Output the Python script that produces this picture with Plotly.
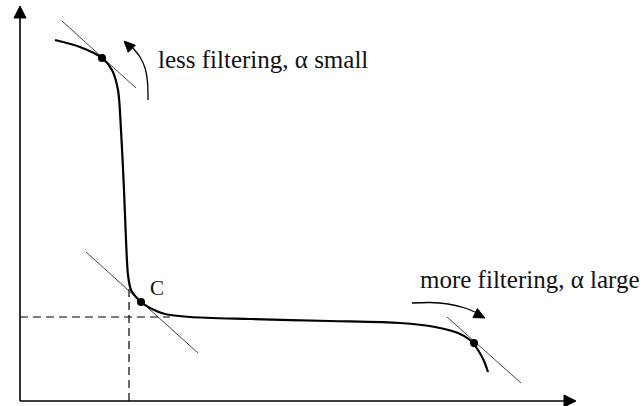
import numpy as np
import plotly.graph_objects as go

W, H = 643, 406

# L-curve control points (drawing units, y grows downward)
curve_x = [55, 80, 102, 112, 118, 121, 124, 126, 128, 131, 136, 141, 150, 165, 190, 250, 330, 400, 435, 458, 470, 478, 484, 488]
curve_y = [40, 47, 58, 70, 90, 130, 190, 240, 275, 290, 297, 302, 308, 314, 317, 319, 321, 323, 327, 333, 340, 350, 361, 372]

# marked points on the curve
pts_x = [102, 141, 474]
pts_y = [58, 302, 343]

# tangent segments
tan_x = [(62, 136), (86, 198), (447, 521)]
tan_y = [(21, 88), (252, 353), (317, 383)]

# corner guide lines
corner_x, corner_y = 129, 317

# axes
origin = (20, 401)
x_end, y_end = 576, 6

# curved direction arrows
arrow1_x = [148, 147.5, 145, 140, 132, 124]
arrow1_y = [100, 82, 68, 57, 47, 41]
arrow2_x = [412, 430, 448, 465, 477, 485]
arrow2_y = [303, 302.5, 304, 308, 313, 318]

labels = ["less filtering, \u03b1 small", "more filtering, \u03b1 large", "C"]

fig = go.Figure()

def line(xs, ys, color="black", width=1.5, dash=None, spline=False):
    fig.add_trace(go.Scatter(
        x=xs, y=ys, mode="lines", hoverinfo="skip", showlegend=False,
        line=dict(color=color, width=width, dash=dash,
                  shape="spline" if spline else "linear", smoothing=0.8)))

def head(tip, frm, length=11, half=5, color="black"):
    tx, ty = tip
    dx, dy = tx - frm[0], ty - frm[1]
    n = np.hypot(dx, dy)
    ux, uy = dx / n, dy / n
    bx, by = tx - ux * length, ty - uy * length
    px, py = -uy, ux
    fig.add_trace(go.Scatter(
        x=[tx, bx + px * half, bx - px * half, tx],
        y=[ty, by + py * half, by - py * half, ty],
        mode="lines", fill="toself", fillcolor=color,
        line=dict(color=color, width=1), hoverinfo="skip", showlegend=False))

# axes with arrowheads
line([origin[0], origin[0]], [origin[1], y_end + 8], width=1.6)
head((origin[0], y_end), (origin[0], origin[1]), length=12, half=6)
line([origin[0], x_end - 8], [origin[1], origin[1]], width=1.6)
head((x_end, origin[1]), (origin[0], origin[1]), length=12, half=6)

# dashed guides to the corner
line([origin[0], 170], [corner_y, corner_y], width=1.2, dash="8px,5px")
line([corner_x, corner_x], [origin[1], 288], width=1.2, dash="8px,5px")

# tangents
for tx, ty in zip(tan_x, tan_y):
    line(list(tx), list(ty), color="#444444", width=1)

# the L-curve
line(curve_x, curve_y, width=2.2, spline=True)

# points
fig.add_trace(go.Scatter(x=pts_x, y=pts_y, mode="markers", hoverinfo="skip",
                         showlegend=False,
                         marker=dict(color="black", size=8)))

# curved arrows
line(arrow1_x[:-1], arrow1_y[:-1], width=1.3, spline=True)
head((arrow1_x[-1], arrow1_y[-1]), (arrow1_x[-3], arrow1_y[-3]), length=11, half=5)
line(arrow2_x[:-1], arrow2_y[:-1], width=1.3, spline=True)
head((arrow2_x[-1], arrow2_y[-1]), (arrow2_x[-3], arrow2_y[-3]), length=11, half=5)

font = dict(family="Liberation Serif, Times New Roman, serif", size=25, color="#111111")
fig.add_annotation(x=156, y=59, text=labels[0], showarrow=False,
                   xanchor="left", yanchor="middle", font=font)
fig.add_annotation(x=418, y=279, text=labels[1], showarrow=False,
                   xanchor="left", yanchor="middle", font=font)
fig.add_annotation(x=157, y=288, text=labels[2], showarrow=False,
                   xanchor="center", yanchor="middle",
                   font=dict(font, size=21))

fig.update_layout(
    width=W, height=H, margin=dict(l=0, r=0, t=0, b=0),
    paper_bgcolor="white", plot_bgcolor="white",
    xaxis=dict(range=[0, W], visible=False, fixedrange=True),
    yaxis=dict(range=[H, 0], visible=False, fixedrange=True),
)

fig.write_html("out.html")
